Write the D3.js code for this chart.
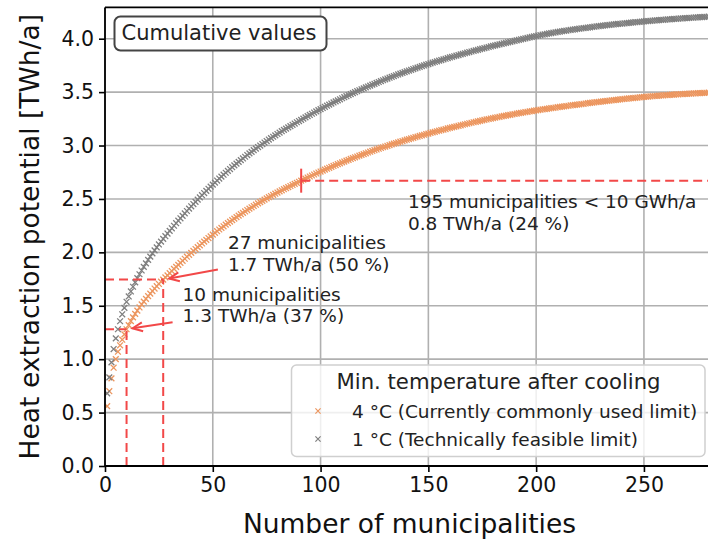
<!DOCTYPE html>
<html>
<head>
<meta charset="utf-8">
<script src="https://cdn.jsdelivr.net/npm/d3@7"></script>
<style>
  html, body { margin: 0; padding: 0; background: #fff; }
  svg { display: block; font-family: "DejaVu Sans", sans-serif; }
</style>
</head>
<body>
<svg id="chart" width="708" height="544"></svg>
<script>
// Heat extraction potential per municipality (GWh/a), sorted from largest to smallest.
// Min. temperature after cooling: 4 °C
const potential4C = [
  560,140,120,100,80,70,60,52,50,48,
  39,37,35,33,31,29,28,27,26,25,24,24,23,22,21,21,20,
  20,20,20,20,20,19,19,19,19,19,19,18,18,18,18,18,17,17,17,17,17,16,16,16,16,
  16,15,15,15,15,14,14,14,14,14,13,13,13,13,13,13,12,12,12,12,
  12,12,11,11,11,11,11,11,11,10,10,10,10,10,10,10,10,10,10,
  9.9,9.8,9.7,9.6,9.5,9.4,9.3,9.2,9.1,
  8.9,8.8,8.7,8.7,8.6,8.5,8.4,8.4,8.3,8.2,8.1,8.1,8.0,7.9,7.8,7.8,7.7,7.6,7.5,7.5,7.4,7.3,7.2,7.2,7.1,7.0,7.0,6.9,
  6.8,6.7,6.7,6.6,6.5,6.5,6.4,6.3,6.3,6.2,6.1,6.1,6.0,6.0,5.9,5.8,5.8,5.7,5.7,5.6,5.6,5.5,5.5,5.4,5.4,5.3,5.3,5.2,
  5.2,5.2,5.2,5.1,5.1,5.0,5.0,4.9,4.9,4.8,4.8,4.7,4.7,4.6,4.6,4.5,4.5,4.4,4.4,4.3,4.3,4.2,4.2,4.1,4.1,4.0,4.0,3.9,3.9,3.8,3.8,3.7,3.7,3.6,3.6,3.5,3.5,3.4,3.4,3.3,3.3,3.3,3.2,3.2,
  3.1,3.1,3.0,3.0,3.0,2.9,2.9,2.9,2.9,2.8,2.8,2.8,2.8,2.7,2.7,2.7,2.7,2.7,2.6,2.6,2.6,2.6,2.6,2.5,2.5,2.5,2.5,2.5,2.4,2.4,2.4,2.4,2.4,2.3,2.3,2.3,2.3,2.3,2.2,2.2,2.2,2.2,2.2,2.1,2.1,2.1,2.1,2.0,2.0,2.0,
  1.8,1.8,1.7,1.7,1.7,1.6,1.6,1.6,1.5,1.5,1.5,1.4,1.4,1.4,1.3,1.3,1.3,1.2,1.2,1.2,1.1,1.1,1.1,1.0,1.0,1.0,0.9,0.9,0.9,0.8,0.8,0.8,0.7,0.7,0.6,0.5
];

// Min. temperature after cooling: 1 °C
const potential1C = [
  680,150,140,125,100,85,75,65,60,57,
  50,47,44,41,39,37,35,34,33,32,31,30,29,28,27,26,26,
  25,25,25,24,24,24,23,23,23,23,22,22,22,21,21,21,21,20,20,20,20,20,19,19,19,
  19,18,18,18,18,17,17,17,17,16,16,16,16,16,15,15,15,15,15,14,
  14,14,14,14,13,13,13,13,13,13,12,12,12,12,12,12,12,11,11,
  11.8,11.6,11.5,11.4,11.2,11.1,11.0,10.8,10.7,
  10.6,10.5,10.4,10.3,10.2,10.1,10.0,9.9,9.8,9.7,9.6,9.6,9.5,9.4,9.3,9.2,9.1,9.0,8.9,8.9,8.8,8.7,8.6,8.5,8.4,8.4,8.3,8.2,
  8.1,8.0,7.9,7.8,7.8,7.7,7.6,7.5,7.4,7.4,7.3,7.2,7.1,7.1,7.0,6.9,6.8,6.8,6.7,6.6,6.6,6.5,6.4,6.4,6.3,6.2,6.2,6.1,
  6.0,6.0,5.9,5.9,5.8,5.8,5.7,5.7,5.6,5.6,5.5,5.5,5.5,5.4,5.4,5.3,5.3,5.3,5.2,5.2,5.1,5.1,5.1,5.0,5.0,4.9,4.9,4.9,4.8,4.8,4.8,4.7,4.7,4.7,4.6,4.6,4.6,4.5,4.5,4.5,4.4,4.4,4.4,4.3,
  4.2,4.1,4.0,3.9,3.8,3.7,3.6,3.5,3.5,3.4,3.3,3.3,3.2,3.1,3.1,3.0,3.0,2.9,2.9,2.8,2.8,2.7,2.7,2.6,2.6,2.6,2.5,2.5,2.5,2.4,2.4,2.4,2.3,2.3,2.3,2.2,2.2,2.2,2.1,2.1,2.1,2.1,2.0,2.0,2.0,2.0,1.9,1.9,1.9,1.9,
  1.8,1.8,1.8,1.7,1.7,1.7,1.7,1.6,1.6,1.6,1.6,1.5,1.5,1.5,1.5,1.5,1.4,1.4,1.4,1.4,1.3,1.3,1.3,1.3,1.2,1.2,1.2,1.2,1.1,1.1,1.0,1.0,0.9,0.9,0.8,0.7
];

const seriesNames = ["4 °C (Currently commonly used limit)", "1 °C (Technically feasible limit)"];
const legendTitle = "Min. temperature after cooling";
const xTicks = [0, 50, 100, 150, 200, 250];
const yTicks = [0, 0.5, 1.0, 1.5, 2.0, 2.5, 3.0, 3.5, 4.0];
const highlightCounts = [10, 27];      // municipalities marked with dashed guides
const smallThresholdGWh = 10;          // municipalities below this potential are grouped

const colors = { c4: "#ec965f", c1: "#7f7f7f", red: "#f24848", grid: "#b0b0b0" };

// Cumulative sums in TWh/a
const cum4 = Array.from(d3.cumsum(potential4C), v => v / 1000);
const cum1 = Array.from(d3.cumsum(potential1C), v => v / 1000);
const total4 = cum4[cum4.length - 1];

const svg = d3.select("#chart");
const W = 708, H = 544;
const plot = { left: 105, right: 714, top: 7.4, bottom: 466 };

const x = d3.scaleLinear().domain([0, 282.5]).range([plot.left, plot.right]);
const y = d3.scaleLinear().domain([0, 4.293]).range([plot.bottom, plot.top]);

svg.append("defs").append("clipPath").attr("id", "plotclip")
  .append("rect").attr("x", plot.left).attr("y", plot.top)
  .attr("width", plot.right - plot.left).attr("height", plot.bottom - plot.top);

// Grid
const grid = svg.append("g").attr("stroke", colors.grid).attr("stroke-width", 1.6);
grid.selectAll("line.gx").data(xTicks).join("line")
  .attr("x1", d => x(d)).attr("x2", d => x(d))
  .attr("y1", plot.top).attr("y2", plot.bottom);
grid.selectAll("line.gy").data(yTicks).join("line")
  .attr("x1", plot.left).attr("x2", plot.right)
  .attr("y1", d => y(d)).attr("y2", d => y(d));

// Markers
const xMark = s => `M${-s},${-s}L${s},${s}M${-s},${s}L${s},${-s}`;
const marks = svg.append("g").attr("clip-path", "url(#plotclip)");
function drawSeries(vals, color) {
  marks.append("g").selectAll("path").data(vals).join("path")
    .attr("transform", (d, i) => `translate(${x(i + 1)},${y(d)})`)
    .attr("d", xMark(2.9))
    .attr("fill", "none").attr("stroke", color).attr("stroke-width", 1.3);
}
drawSeries(cum4, colors.c4);
drawSeries(cum1, colors.c1);

// Annotation guides
const ann = svg.append("g").attr("clip-path", "url(#plotclip)")
  .attr("stroke", colors.red).attr("stroke-width", 2).attr("stroke-dasharray", "9,5").attr("fill", "none");
highlightCounts.forEach(n => {
  const v = cum4[n - 1];
  ann.append("line").attr("x1", x(0)).attr("x2", x(n)).attr("y1", y(v)).attr("y2", y(v));
  ann.append("line").attr("x1", x(n)).attr("x2", x(n)).attr("y1", y(0)).attr("y2", y(v));
});
const nLarge = potential4C.filter(p => p >= smallThresholdGWh).length;
const vLarge = cum4[nLarge - 1];
ann.append("line").attr("x1", x(nLarge)).attr("x2", plot.right).attr("y1", y(vLarge)).attr("y2", y(vLarge));
svg.append("line").attr("x1", x(nLarge)).attr("x2", x(nLarge))
  .attr("y1", y(vLarge) - 12).attr("y2", y(vLarge) + 12)
  .attr("stroke", colors.red).attr("stroke-width", 2);

// Annotation text
const fmt1 = d3.format(".1f");
const pct = v => `${Math.round(100 * v / total4)} %`;
const annFont = 18.5;
function twoLines(px, py, l1, l2, gap) {
  const t = svg.append("text").attr("font-size", annFont).attr("fill", "#222");
  t.append("tspan").attr("x", px).attr("y", py).text(l1);
  t.append("tspan").attr("x", px).attr("y", py + gap).text(l2);
}
function arrow(x1, y1, x2, y2) {
  const g = svg.append("g").attr("stroke", colors.red).attr("stroke-width", 2).attr("fill", "none");
  g.append("line").attr("x1", x1).attr("y1", y1).attr("x2", x2).attr("y2", y2);
  const a = Math.atan2(y1 - y2, x1 - x2), L = 11, spread = 0.42;
  g.append("path").attr("d",
    `M${x2 + L * Math.cos(a + spread)},${y2 + L * Math.sin(a + spread)}L${x2},${y2}L${x2 + L * Math.cos(a - spread)},${y2 + L * Math.sin(a - spread)}`);
}
{
  const n = 27, v = cum4[n - 1];
  const tx = x(57), ty = y(v) - 31;
  twoLines(tx, ty, `${n} municipalities`, `${fmt1(v)} TWh/a (${pct(v)})`, 22);
  arrow(tx - 10, ty + 21, x(n) + 6, y(v) - 1);
}
{
  const n = 10, v = cum4[n - 1];
  const tx = x(36), ty = y(v) - 28;
  twoLines(tx, ty, `${n} municipalities`, `${fmt1(v)} TWh/a (${pct(v)})`, 21);
  arrow(tx - 10, ty + 21, x(n) + 6, y(v) - 1);
}
{
  const rest = total4 - vLarge;
  const tx = x(140.5), ty = y(vLarge) + 27;
  twoLines(tx, ty, `${potential4C.length - nLarge} municipalities < ${smallThresholdGWh} GWh/a`,
    `${fmt1(rest)} TWh/a (${pct(rest)})`, 22);
}

// Spines
const sp = svg.append("g").attr("stroke", "#000").attr("stroke-width", 1.8);
sp.append("line").attr("x1", plot.left).attr("x2", plot.left).attr("y1", plot.top).attr("y2", plot.bottom);
sp.append("line").attr("x1", plot.left).attr("x2", W).attr("y1", plot.bottom).attr("y2", plot.bottom);
sp.append("line").attr("x1", plot.left).attr("x2", W).attr("y1", plot.top).attr("y2", plot.top);

// Axes
const tickFont = 20.5;
const xAxis = svg.append("g").attr("transform", `translate(0,${plot.bottom})`)
  .call(d3.axisBottom(x).tickValues(xTicks).tickSize(6).tickPadding(5).tickFormat(d3.format("d")));
const yAxis = svg.append("g").attr("transform", `translate(${plot.left},0)`)
  .call(d3.axisLeft(y).tickValues(yTicks).tickSize(6).tickPadding(5).tickFormat(d3.format(".1f")));
[xAxis, yAxis].forEach(a => {
  a.select(".domain").remove();
  a.selectAll(".tick line").attr("stroke", "#000").attr("stroke-width", 1.6);
  a.selectAll(".tick text").attr("font-size", tickFont).attr("fill", "#111")
    .attr("font-family", "DejaVu Sans");
});

svg.append("text").attr("x", (plot.left + plot.right) / 2).attr("y", 533)
  .attr("text-anchor", "middle").attr("font-size", 26.5).attr("fill", "#111")
  .text("Number of municipalities");
svg.append("text").attr("transform", `translate(39,${(plot.top + plot.bottom) / 2}) rotate(-90)`)
  .attr("text-anchor", "middle").attr("font-size", 26.5).attr("fill", "#111")
  .text("Heat extraction potential [TWh/a]");

// "Cumulative values" label box
svg.append("rect").attr("x", 114.5).attr("y", 16.5).attr("width", 212).attr("height", 34).attr("rx", 6)
  .attr("fill", "#fff").attr("stroke", "#444").attr("stroke-width", 2);
svg.append("text").attr("x", 121.5).attr("y", 40).attr("font-size", 21).attr("fill", "#222")
  .text("Cumulative values");

// Legend
const lg = svg.append("g");
lg.append("rect").attr("x", 291.5).attr("y", 365).attr("width", 413.5).attr("height", 91.5).attr("rx", 5)
  .attr("fill", "#fff").attr("fill-opacity", 0.8).attr("stroke", "#cfcfcf").attr("stroke-width", 1.5);
lg.append("text").attr("x", 498.5).attr("y", 389).attr("text-anchor", "middle")
  .attr("font-size", 21.2).attr("fill", "#222").text(legendTitle);
[[colors.c4, 411, 418], [colors.c1, 439, 446]].forEach(([c, my, ty], i) => {
  lg.append("path").attr("transform", `translate(318,${my})`).attr("d", xMark(2.6))
    .attr("fill", "none").attr("stroke", c).attr("stroke-width", 1.2);
  lg.append("text").attr("x", 352).attr("y", ty).attr("font-size", annFont).attr("fill", "#222")
    .text(seriesNames[i]);
});
</script>
</body>
</html>
